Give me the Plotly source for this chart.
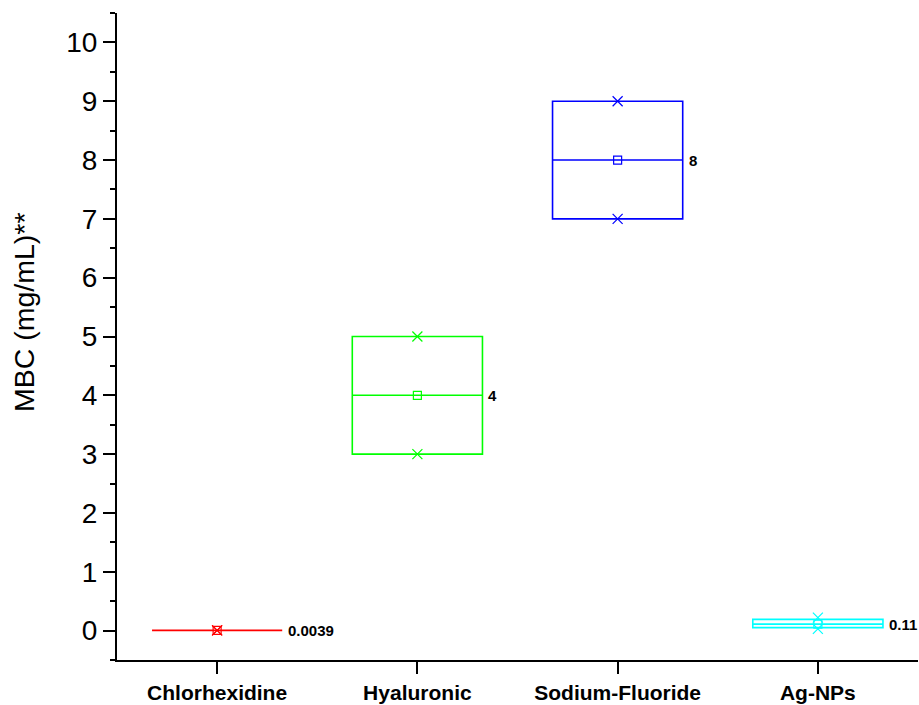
import plotly.graph_objects as go

categories = ["Chlorhexidine", "Hyaluronic", "Sodium-Fluoride", "Ag-NPs"]
positions = [1, 2, 3, 4]
q1_vals = [0.0039, 3, 7, 0.05]
median_vals = [0.0039, 4, 8, 0.11]
q3_vals = [0.0039, 5, 9, 0.19]
mean_vals = [0.0039, 4, 8, 0.11]
min_vals = [0.0039, 3, 7, 0.03]
max_vals = [0.0039, 5, 9, 0.22]
label_texts = ["0.0039", "4", "8", "0.11"]
colors = ["#FF0000", "#00FF00", "#0000FF", "#00FFFF"]

BOX_W = 0.65
FONT = "Liberation Sans, Arial, sans-serif"

fig = go.Figure()
for i, cat in enumerate(categories):
    x = positions[i]
    c = colors[i]
    fig.add_trace(go.Box(
        x=[x], q1=[q1_vals[i]], median=[median_vals[i]], q3=[q3_vals[i]],
        lowerfence=[q1_vals[i]], upperfence=[q3_vals[i]],
        width=BOX_W, line=dict(color=c, width=1.6), fillcolor="rgba(0,0,0,0)",
        boxpoints=False, whiskerwidth=0, showlegend=False, name=cat, hoverinfo="skip",
    ))
    fig.add_trace(go.Scatter(
        x=[x, x], y=[min_vals[i], max_vals[i]], mode="markers",
        marker=dict(symbol="x-thin-open", size=10, line=dict(color=c, width=1.2), color=c),
        showlegend=False, hoverinfo="skip",
    ))
    fig.add_trace(go.Scatter(
        x=[x], y=[mean_vals[i]], mode="markers",
        marker=dict(symbol="square-open", size=8, line=dict(color=c, width=1.2), color=c),
        showlegend=False, hoverinfo="skip",
    ))
    fig.add_annotation(
        x=x + BOX_W / 2, y=median_vals[i], text=label_texts[i], showarrow=False,
        xanchor="left", yanchor="middle", xshift=4,
        font=dict(family=FONT, size=15, color="black", weight="bold"),
    )

# y-axis title placed as a rotated annotation (it sits above the plot centre in the reference)
fig.add_annotation(
    xref="paper", yref="paper", x=-0.116, y=0.538, text="MBC (mg/mL)**",
    textangle=-90, showarrow=False, xanchor="center", yanchor="middle",
    font=dict(family=FONT, size=28.5, color="black"),
)

fig.update_layout(
    width=919, height=705,
    margin=dict(l=117, r=1, t=13, b=45, autoexpand=False),
    plot_bgcolor="white", paper_bgcolor="white",
    font=dict(family=FONT, color="black"),
    xaxis=dict(
        range=[0.5, 4.5], tickvals=positions, ticktext=categories, automargin=False,
        showgrid=False, zeroline=False, showline=True, linecolor="black", linewidth=2,
        ticks="outside", ticklen=12, tickwidth=2, tickcolor="black",
        tickfont=dict(family=FONT, size=21, color="black", weight="bold"),
        ticklabelstandoff=1,
    ),
    yaxis=dict(
        range=[-0.5, 10.5], tick0=0, dtick=1, automargin=False,
        showgrid=False, zeroline=False, showline=True, linecolor="black", linewidth=2,
        ticks="outside", ticklen=12, tickwidth=2, tickcolor="black",
        minor=dict(ticks="outside", ticklen=5, tickwidth=2, tickcolor="black", dtick=0.5, tick0=0, showgrid=False),
        tickfont=dict(family=FONT, size=28, color="black"),
    ),
)

fig.write_html(
    "out.html",
    config={"displayModeBar": False},
    post_script="document.body.style.margin='0';document.body.style.overflow='hidden';",
)
